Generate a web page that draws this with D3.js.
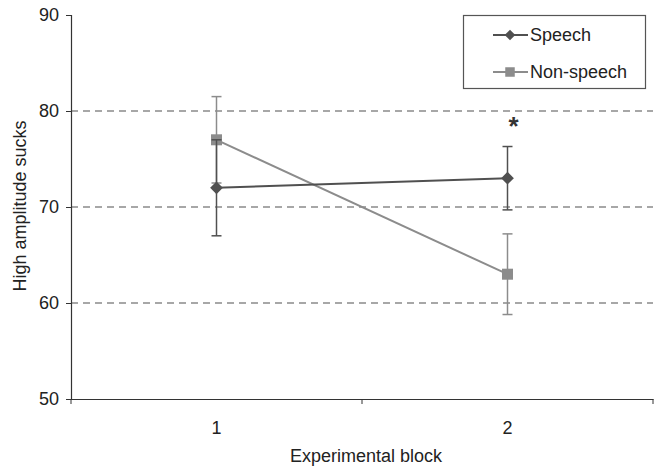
<!DOCTYPE html>
<html>
<head>
<meta charset="utf-8">
<script src="https://cdn.jsdelivr.net/npm/d3@7"></script>
<style>
  body { margin: 0; background: #fff; }
  svg { font-family: "Liberation Sans", Arial, sans-serif; }
</style>
</head>
<body>
<div class="graph-container"></div>
<script>
var svgWidth = 654;
var svgHeight = 466;

var blocks = ['1', '2'];
var speechMeans = [72, 73];
var speechErrors = [5, 3.3];
var nonSpeechMeans = [77, 63];
var nonSpeechErrors = [4.5, 4.2];
var yTicks = [50, 60, 70, 80, 90];
var gridValues = [60, 70, 80];

var series = [
  { name: 'Speech', means: speechMeans, errors: speechErrors, color: '#505050', diamond: true },
  { name: 'Non-speech', means: nonSpeechMeans, errors: nonSpeechErrors, color: '#8c8c8c', diamond: false }
];

var svg = d3.select('.graph-container').append('svg')
  .attr('width', svgWidth)
  .attr('height', svgHeight);

// scales
var xScale = d3.scaleBand()
  .domain(blocks)
  .range([71, 653]);

var yScale = d3.scaleLinear()
  .domain([50, 90])
  .range([399, 15]);

// dashed gridlines
svg.selectAll('.grid')
  .data(gridValues)
  .enter()
  .append('line')
  .attr('x1', 71)
  .attr('x2', 653)
  .attr('y1', function(d) { return yScale(d); })
  .attr('y2', function(d) { return yScale(d); })
  .attr('stroke', '#8a8a8a')
  .attr('stroke-width', 1.3)
  .attr('stroke-dasharray', '7,5');

// axes
var yAxis = d3.axisLeft(yScale).tickValues(yTicks).tickSize(5).tickPadding(7);
var yG = svg.append('g')
  .attr('transform', 'translate(71,0)')
  .call(yAxis);

var xAxis = d3.axisBottom(xScale).tickSize(0).tickPadding(22);
var xG = svg.append('g')
  .attr('transform', 'translate(0,399)')
  .call(xAxis);

// tick marks at band edges on x axis
svg.selectAll('.xedge')
  .data([71, 362, 653])
  .enter()
  .append('line')
  .attr('x1', function(d) { return d; })
  .attr('x2', function(d) { return d; })
  .attr('y1', 399)
  .attr('y2', 404)
  .attr('stroke', '#333');

[yG, xG].forEach(function(g) {
  g.select('.domain').attr('stroke', '#333').attr('stroke-width', 1.2);
  g.selectAll('.tick line').attr('stroke', '#333');
  g.selectAll('.tick text')
    .attr('fill', '#222')
    .style('font-size', '18px')
    .style('font-family', '"Liberation Sans", Arial, sans-serif');
});

function marker(g, s, cx, cy, big) {
  if (s.diamond) {
    var side = big ? 9 : 7.5;
    g.append('rect')
      .attr('x', -side / 2).attr('y', -side / 2)
      .attr('width', side).attr('height', side)
      .attr('transform', 'translate(' + cx + ',' + cy + ') rotate(45)')
      .attr('fill', s.color);
  } else {
    var sq = big ? 11 : 9.5;
    g.append('rect')
      .attr('x', cx - sq / 2).attr('y', cy - sq / 2)
      .attr('width', sq).attr('height', sq)
      .attr('fill', s.color);
  }
}

// lines, error bars, markers
var lineGen = d3.line()
  .x(function(d, i) { return xScale(blocks[i]) + xScale.bandwidth() / 2; })
  .y(function(d) { return yScale(d); });

series.slice().reverse().forEach(function(s) {
  var g = svg.append('g');
  g.append('path')
    .datum(s.means)
    .attr('d', lineGen)
    .attr('fill', 'none')
    .attr('stroke', s.color)
    .attr('stroke-width', 2);

  s.means.forEach(function(m, i) {
    var cx = xScale(blocks[i]) + xScale.bandwidth() / 2;
    var hi = yScale(m + s.errors[i]);
    var lo = yScale(m - s.errors[i]);
    g.append('line')
      .attr('x1', cx).attr('x2', cx)
      .attr('y1', hi).attr('y2', lo)
      .attr('stroke', s.color).attr('stroke-width', 1.5);
    [hi, lo].forEach(function(y) {
      g.append('line')
        .attr('x1', cx - 5).attr('x2', cx + 5)
        .attr('y1', y).attr('y2', y)
        .attr('stroke', s.color).attr('stroke-width', 1.5);
    });
    marker(g, s, cx, yScale(m), true);
  });
});

// significance marker
svg.append('text')
  .attr('x', xScale('2') + xScale.bandwidth() / 2 + 6)
  .attr('y', 135)
  .style('text-anchor', 'middle')
  .style('font-size', '26px')
  .style('font-weight', 'bold')
  .attr('fill', '#333')
  .text('*');

// legend
var legend = svg.append('g');
legend.append('rect')
  .attr('x', 463.5)
  .attr('y', 15.5)
  .attr('width', 182)
  .attr('height', 73)
  .attr('fill', '#fff')
  .attr('stroke', '#555')
  .attr('stroke-width', 1.2);

series.forEach(function(s, i) {
  var ly = 35 + i * 37;
  legend.append('line')
    .attr('x1', 493).attr('x2', 528)
    .attr('y1', ly).attr('y2', ly)
    .attr('stroke', s.color).attr('stroke-width', 2);
  marker(legend, s, 510, ly, false);
  legend.append('text')
    .attr('x', 530)
    .attr('y', ly + 6)
    .style('font-size', '18px')
    .attr('fill', '#222')
    .text(s.name);
});

// axis titles
svg.append('text')
  .attr('x', 366)
  .attr('y', 462)
  .style('text-anchor', 'middle')
  .style('font-size', '18px')
  .attr('fill', '#222')
  .text('Experimental block');

svg.append('text')
  .attr('x', -206)
  .attr('y', 26)
  .attr('transform', 'rotate(-90)')
  .style('text-anchor', 'middle')
  .style('font-size', '18px')
  .attr('fill', '#222')
  .text('High amplitude sucks');
</script>
</body>
</html>
